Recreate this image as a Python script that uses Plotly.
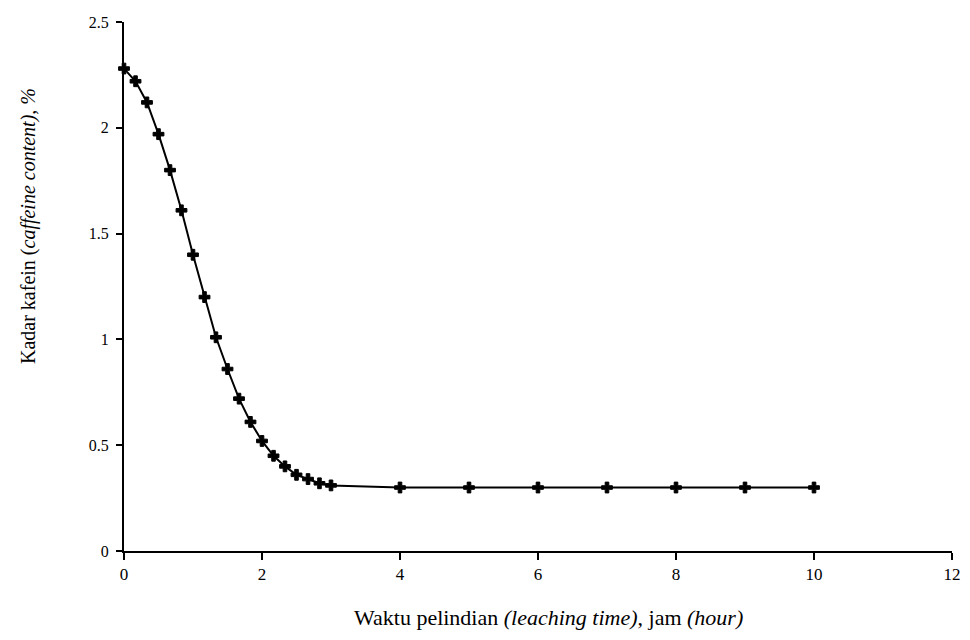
import plotly.graph_objects as go

# Leaching time (hours)
time_h = [0, 0.167, 0.333, 0.5, 0.667, 0.833, 1.0, 1.167, 1.333, 1.5, 1.667, 1.833,
          2.0, 2.167, 2.333, 2.5, 2.667, 2.833, 3.0, 4, 5, 6, 7, 8, 9, 10]
# Caffeine content (%)
caffeine = [2.28, 2.22, 2.12, 1.97, 1.80, 1.61, 1.40, 1.20, 1.01, 0.86, 0.72, 0.61,
            0.52, 0.45, 0.40, 0.36, 0.34, 0.32, 0.31, 0.30, 0.30, 0.30, 0.30, 0.30, 0.30, 0.30]

x_ticks = [0, 2, 4, 6, 8, 10, 12]
y_ticks = [0, 0.5, 1, 1.5, 2, 2.5]
y_tick_labels = ["0", "0.5", "1", "1.5", "2", "2.5"]

FONT = "Liberation Serif, Times New Roman, serif"

# page body has an 8px default margin; plot area spans x 124..952, y 22..551 in the window
PLOT_L, PLOT_R, PLOT_T, PLOT_B = 124, 952, 22, 551
FIG_W, FIG_H = 954, 624
PW, PH = PLOT_R - PLOT_L, PLOT_B - PLOT_T

fig = go.Figure()
fig.add_trace(go.Scatter(
    x=time_h, y=caffeine, mode="lines+markers",
    line=dict(color="black", width=2),
    marker=dict(symbol="cross", size=9, color="black",
                line=dict(color="black", width=1)),
    cliponaxis=False, showlegend=False,
))

fig.update_layout(
    width=FIG_W, height=FIG_H,
    margin=dict(l=PLOT_L - 8, r=FIG_W + 8 - PLOT_R, t=PLOT_T - 8, b=FIG_H + 8 - PLOT_B),
    paper_bgcolor="white", plot_bgcolor="white",
    font=dict(family=FONT, color="black", size=16),
)
fig.update_xaxes(
    range=[0, 12], tickvals=x_ticks, ticktext=[str(v) for v in x_ticks],
    showgrid=False, zeroline=False, showline=True, linecolor="black", linewidth=2,
    ticks="outside", ticklen=7, tickwidth=2, tickcolor="black",
    tickfont=dict(family=FONT, size=17), automargin=False,
    ticklabeloverflow="allow",
)
fig.update_yaxes(
    range=[0, 2.5], tickvals=y_ticks, ticktext=y_tick_labels,
    showgrid=False, zeroline=False, showline=True, linecolor="black", linewidth=2,
    ticks="outside", ticklen=6, tickwidth=2, tickcolor="black",
    tickfont=dict(family=FONT, size=16), automargin=False,
    ticklabelstandoff=4,
)
fig.add_annotation(
    text="Waktu pelindian <i>(leaching time)</i>, jam <i>(hour)</i>",
    xref="paper", yref="paper", x=(548 - PLOT_L) / PW, y=-(617 - PLOT_B) / PH,
    showarrow=False, xanchor="center", yanchor="middle",
    font=dict(family=FONT, size=22, color="black"),
)
fig.add_annotation(
    text="Kadar kafein (<i>caffeine content), %</i>",
    xref="paper", yref="paper", x=-(PLOT_L - 28) / PW, y=(PLOT_B - 226) / PH,
    showarrow=False, xanchor="center", yanchor="middle", textangle=-90,
    font=dict(family=FONT, size=20, color="black"),
)

fig.write_html("out.html")
